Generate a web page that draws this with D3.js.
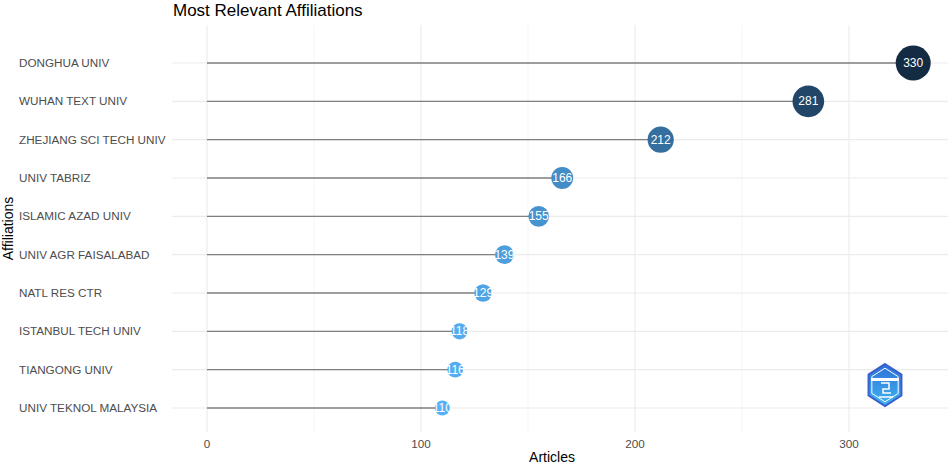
<!DOCTYPE html>
<html>
<head>
<meta charset="utf-8">
<script src="https://cdn.jsdelivr.net/npm/d3@7"></script>
<style>
  body { margin: 0; background: #fff; }
  svg { display: block; font-family: "Liberation Sans", Arial, sans-serif; }
</style>
</head>
<body>
<svg></svg>
<script>
// affiliations and article counts, top to bottom
const affiliations = ["DONGHUA UNIV", "WUHAN TEXT UNIV", "ZHEJIANG SCI TECH UNIV", "UNIV TABRIZ",
  "ISLAMIC AZAD UNIV", "UNIV AGR FAISALABAD", "NATL RES CTR", "ISTANBUL TECH UNIV",
  "TIANGONG UNIV", "UNIV TEKNOL MALAYSIA"];
const articles = [330, 281, 212, 166, 155, 139, 129, 118, 116, 110];
const xTicks = [0, 100, 200, 300];
const xMinor = [50, 150, 250];

const width = 948;
const height = 465;

const svg = d3.select("svg")
    .attr("width", width)
    .attr("height", height);

const panelLeft = 172, panelRight = 948, panelTop = 25, panelBottom = 432;

// x scale: 0 -> 207px, 300 -> 849px
const x = d3.scaleLinear()
    .domain([0, 300])
    .range([207, 849]);

// y: one row per affiliation
const y = d3.scalePoint()
    .domain(affiliations)
    .range([63, 408]);

const data = affiliations.map((a, i) => ({ name: a, n: articles[i] }));

const color = d3.scaleLinear()
    .domain([110, 330])
    .range(["#56B1F7", "#132B43"])
    .interpolate(d3.interpolateLab);

const size = d3.scaleRadial()
    .domain([110, 330])
    .range([7.5, 17.5]);

// grid
const grid = svg.append("g");
grid.selectAll(".minor")
    .data(xMinor)
    .enter().append("line")
    .attr("x1", d => x(d)).attr("x2", d => x(d))
    .attr("y1", panelTop).attr("y2", panelBottom)
    .attr("stroke", "#F2F2F2")
    .attr("stroke-width", 0.8);
grid.selectAll(".major")
    .data(xTicks)
    .enter().append("line")
    .attr("x1", d => x(d)).attr("x2", d => x(d))
    .attr("y1", panelTop).attr("y2", panelBottom)
    .attr("stroke", "#EBEBEB")
    .attr("stroke-width", 1.1);
grid.selectAll(".hgrid")
    .data(affiliations)
    .enter().append("line")
    .attr("x1", panelLeft).attr("x2", panelRight)
    .attr("y1", d => y(d)).attr("y2", d => y(d))
    .attr("stroke", "#EBEBEB")
    .attr("stroke-width", 1.1);

// lollipop stems
svg.selectAll(".stem")
    .data(data)
    .enter().append("line")
    .attr("x1", x(0))
    .attr("x2", d => x(d.n))
    .attr("y1", d => y(d.name))
    .attr("y2", d => y(d.name))
    .attr("stroke", "#7F7F7F")
    .attr("stroke-width", 1.3);

// dots
svg.selectAll(".dot")
    .data(data)
    .enter().append("circle")
    .attr("cx", d => x(d.n))
    .attr("cy", d => y(d.name))
    .attr("r", d => size(d.n))
    .attr("fill", d => color(d.n));

// value labels
svg.selectAll(".val")
    .data(data)
    .enter().append("text")
    .attr("x", d => x(d.n))
    .attr("y", d => y(d.name) + 4)
    .attr("text-anchor", "middle")
    .attr("fill", "#fff")
    .style("font-size", "12px")
    .text(d => d.n);

// y axis labels (left aligned)
svg.selectAll(".ylab")
    .data(affiliations)
    .enter().append("text")
    .attr("x", 19)
    .attr("y", d => y(d) + 4)
    .attr("fill", "#4D4D4D")
    .style("font-size", "11.7px")
    .text(d => d);

// x tick labels
svg.selectAll(".xlab")
    .data(xTicks)
    .enter().append("text")
    .attr("x", d => x(d))
    .attr("y", 448)
    .attr("text-anchor", "middle")
    .attr("fill", "#4D4D4D")
    .style("font-size", "11.7px")
    .text(d => d);

// axis titles
svg.append("text")
    .attr("x", 552)
    .attr("y", 462)
    .attr("text-anchor", "middle")
    .style("font-size", "14px")
    .text("Articles");

svg.append("text")
    .attr("transform", `translate(13, ${(panelTop + panelBottom) / 2}) rotate(-90)`)
    .attr("text-anchor", "middle")
    .style("font-size", "14px")
    .text("Affiliations");

// title
svg.append("text")
    .attr("x", 173)
    .attr("y", 16)
    .style("font-size", "17px")
    .text("Most Relevant Affiliations");

// small hexagon logo, bottom right
const defs = svg.append("defs");
const lg = defs.append("linearGradient")
    .attr("id", "logoGrad")
    .attr("x1", 0).attr("y1", 0).attr("x2", 0).attr("y2", 1);
lg.append("stop").attr("offset", "0%").attr("stop-color", "#2E6FD6");
lg.append("stop").attr("offset", "100%").attr("stop-color", "#3FB6F2");

const logo = svg.append("g").attr("transform", "translate(885, 385)");
const hex = d3.range(6).map(i => {
  const a = Math.PI / 3 * i - Math.PI / 2;
  return [19 * Math.cos(a), 21 * Math.sin(a)];
});
logo.append("path")
    .attr("d", d3.line()(hex) + "Z")
    .attr("fill", "url(#logoGrad)")
    .attr("stroke", "#3A5FCD")
    .attr("stroke-width", 2);
logo.append("path")
    .attr("d", d3.line()(hex.map(p => [p[0] * 0.8, p[1] * 0.8])) + "Z")
    .attr("fill", "none")
    .attr("stroke", "#fff")
    .attr("stroke-width", 1);
logo.append("rect")
    .attr("x", -14).attr("y", -7).attr("width", 28).attr("height", 3)
    .attr("fill", "#fff");
logo.append("path")
    .attr("d", "M-4,-2 L4,-2 L4,4 L-2,4 L-2,8 L6,8 M-6,12 L8,12")
    .attr("fill", "none")
    .attr("stroke", "#fff")
    .attr("stroke-width", 1.5);
</script>
</body>
</html>
